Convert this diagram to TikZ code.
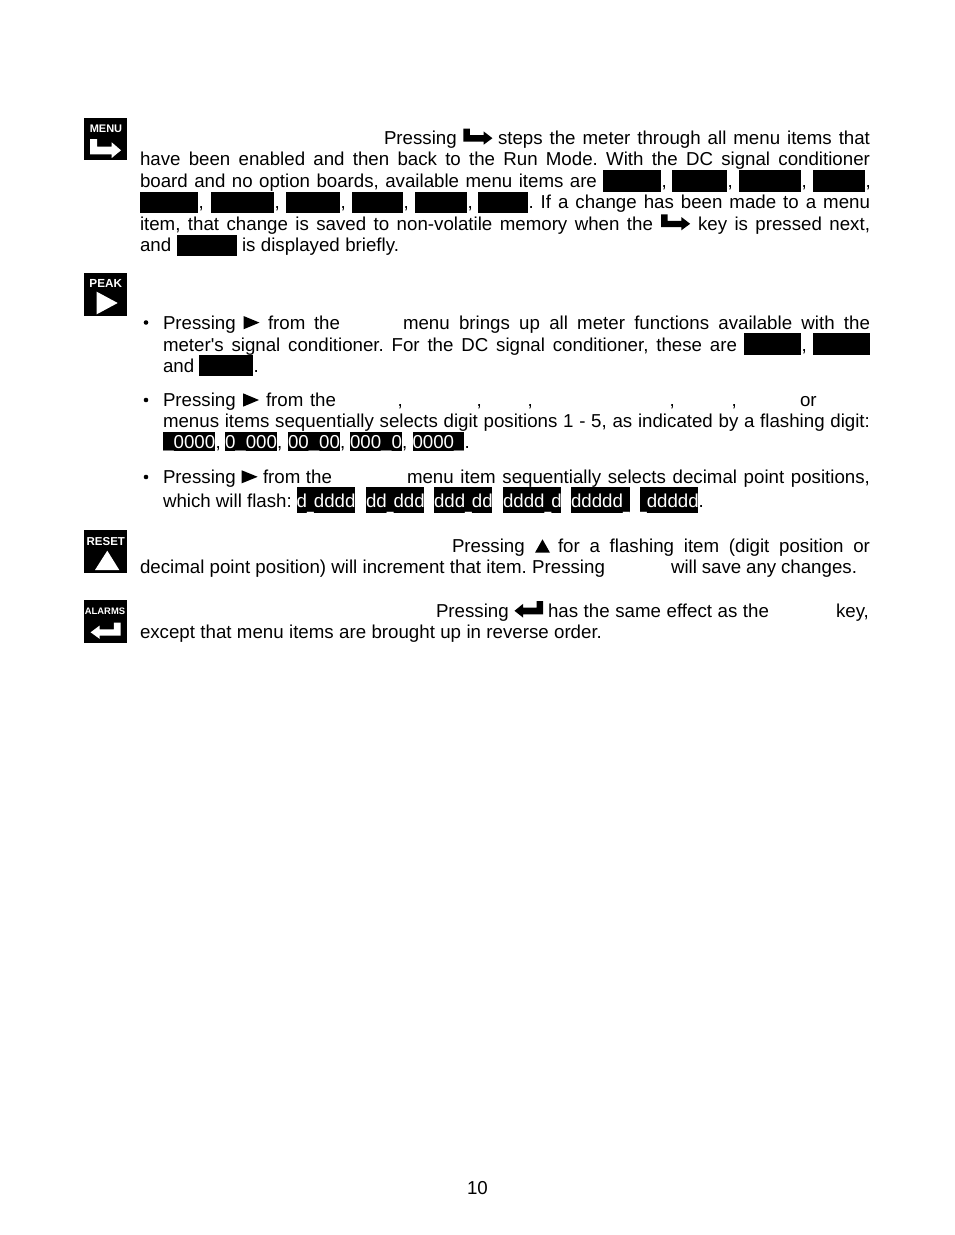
\documentclass[tikz,border=0pt]{standalone}
\usepackage{fontspec}
\setmainfont{Liberation Sans}
\newfontfamily\plainface{Liberation Sans}
\AtBeginDocument{\frenchspacing}
\newcommand\bodysize{\fontsize{18.7}{21.5}\selectfont}
\newcommand\nus{\raisebox{-1pt}{\scalebox{0.65}[1.5]{\_}}}
\tikzset{
  x=1pt,y=-1pt,
  tl/.style={anchor=base west,inner sep=0pt,outer sep=0pt,font=\bodysize,text=black},
  wl/.style={tl,text=white},
  iconlabel/.style={anchor=base,inner sep=0pt,outer sep=0pt,text=white},
  blk/.style={fill=black,draw=none},
  wht/.style={fill=white,draw=none},
}
% justified segment: x, baseline, width, text
\newcommand\seg[4]{\node[tl] at (#1,#2) {\makebox[#3pt][s]{#4}};}
% natural-width text: x, baseline, text
\newcommand\wrd[3]{\node[tl] at (#1,#2) {#3};}
% redaction block: x0,y0,x1,y1
\newcommand\blackbar[4]{\fill[blk] (#1,#2) rectangle (#3,#4);}
% block with white text inside: x0,y0,x1,y1,baseline,text
\newcommand\txtbar[6]{\fill[blk] (#1,#2) rectangle (#3,#4);\node[wl] at (#1,#5) {#6};}
% bent arrow: shift x,y ; xscale ; yscale ; style
\newcommand\bentarrow[5]{\fill[#5,shift={(#1,#2)},xscale=#3,yscale=#4]
  (0,0) -- (7,0) -- (7,7.7) -- (21.7,7.7) -- (21.7,3.3) -- (31,11.3) -- (21.7,19) -- (21.7,15.3) -- (0,15.3) -- cycle;}
\begin{document}
\begin{tikzpicture}
\useasboundingbox[fill=white] (0,0) rectangle (954,1235);
% --- icons
\fill[blk] (84,118) rectangle (127.3,160);
\node[iconlabel,font=\bfseries\fontsize{11}{11}\selectfont] (menuLabel) at (106,132.7) {MENU};
\bentarrow{90}{139}{1}{1}{wht}
\fill[blk] (84,273) rectangle (127.3,316);
\node[iconlabel,font=\bfseries\fontsize{11.7}{11.7}\selectfont] (peakLabel) at (105.7,287.7) {PEAK};
\fill[wht] (96.7,291.7) -- (117.7,303) -- (96.7,314.3) -- cycle;
\fill[blk] (84,530) rectangle (127.3,572.7);
\node[iconlabel,font=\bfseries\fontsize{11.5}{11.5}\selectfont] (resetLabel) at (105.8,545) {RESET};
\fill[wht] (107.3,550.7) -- (119.3,570) -- (95,570) -- cycle;
\fill[blk] (84,600) rectangle (127.3,642.7);
\node[iconlabel,font=\bfseries\fontsize{9.4}{9.4}\selectfont] (alarmsLabel) at (105,614) {ALARMS};
\bentarrow{120.7}{622.7}{-0.97}{0.85}{wht}
% --- MENU paragraph
\wrd{384}{144}{Pressing}
\bentarrow{463.3}{128.7}{0.94}{0.84}{blk}
\seg{498}{144}{372}{steps the meter through all menu items that}
\seg{140}{165.3}{730}{have been enabled and then back to the Run Mode. With the DC signal conditioner}
\seg{140}{187}{457}{board and no option boards, available menu items are}
\blackbar{603}{170}{661}{192}\wrd{661.5}{187}{,}
\blackbar{672}{170}{727}{192}\wrd{727.5}{187}{,}
\blackbar{739}{170}{801}{192}\wrd{801.5}{187}{,}
\blackbar{813}{170}{865}{192}\wrd{865.5}{187}{,}
\blackbar{140}{192}{198}{213}\wrd{198.5}{208.5}{,}
\blackbar{211}{192}{274}{213}\wrd{274.5}{208.5}{,}
\blackbar{286}{192}{340}{213}\wrd{340.5}{208.5}{,}
\blackbar{352}{192}{403}{213}\wrd{403.5}{208.5}{,}
\blackbar{415}{192}{467}{213}\wrd{467.5}{208.5}{,}
\blackbar{478}{192}{528}{213}
\seg{528.5}{208.5}{341.5}{. If a change has been made to a menu}
\seg{140}{230}{513}{item, that change is saved to non-volatile memory when the}
\bentarrow{661}{214.3}{0.94}{0.84}{blk}
\seg{698}{230}{172}{key is pressed next,}
\wrd{140}{251.7}{and}
\blackbar{177}{235}{237}{256}
\seg{242}{251.7}{157}{is displayed briefly.}
% --- PEAK bullet 1
\fill[blk] (146,322.5) circle (2.3);
\wrd{163}{329}{Pressing}
\fill[blk] (243.5,316) -- (259.5,322.6) -- (243.5,329.3) -- cycle;
\seg{268}{329}{72}{from the}
\seg{403}{329}{467}{menu brings up all meter functions available with the}
\seg{163}{351}{574}{meter{\plainface '}s signal conditioner. For the DC signal conditioner, these are}
\blackbar{744}{333}{801}{355}\wrd{801.5}{351}{,}
\blackbar{813}{333}{870}{355}
\wrd{163}{372.5}{and}
\blackbar{199}{355}{253}{375.7}\wrd{253.5}{372.5}{.}
% --- PEAK bullet 2
\fill[blk] (146,400) circle (2.3);
\wrd{163}{406}{Pressing}
\fill[blk] (243,393.3) -- (259,400) -- (243,406.7) -- cycle;
\seg{266}{406}{70}{from the}
\wrd{397.5}{406}{,}\wrd{476.5}{406}{,}\wrd{527.5}{406}{,}\wrd{669.5}{406}{,}\wrd{731.5}{406}{,}
\wrd{800}{406}{or}
\seg{163}{427.5}{707}{menus items sequentially selects digit positions 1 - 5, as indicated by a flashing digit:}
\txtbar{163.3}{431.7}{215}{450.8}{448.5}{\_0000}\wrd{215.5}{448.5}{,}
\txtbar{225}{431.7}{276.7}{450.8}{448.5}{0\_000}\wrd{277}{448.5}{,}
\txtbar{288}{431.7}{339.7}{450.8}{448.5}{00\_00}\wrd{340}{448.5}{,}
\txtbar{350}{431.7}{401.7}{450.8}{448.5}{000\_0}\wrd{402}{448.5}{,}
\txtbar{412.5}{431.7}{464}{450.8}{448.5}{0000\_}\wrd{464.5}{448.5}{.}
% --- PEAK bullet 3
\fill[blk] (146,477) circle (2.3);
\wrd{163}{483}{Pressing}
\fill[blk] (241.7,470.3) -- (257.7,476.8) -- (241.7,483.3) -- cycle;
\seg{263}{483}{69}{from the}
\seg{407}{483}{463}{menu item sequentially selects decimal point positions,}
\wrd{163}{507}{which will flash:}
\txtbar{296.7}{486.7}{355}{513}{507}{d\nus dddd}
\txtbar{366}{486.7}{424}{513}{507}{dd\nus ddd}
\txtbar{434}{486.7}{492}{513}{507}{ddd\nus dd}
\txtbar{503}{486.7}{561}{513}{507}{dddd\nus d}
\txtbar{571}{486.7}{630}{513}{507}{ddddd\nus}
\txtbar{640}{486.7}{698}{513}{507}{\nus ddddd}
\wrd{698.5}{507}{.}
% --- RESET paragraph
\wrd{452}{552}{Pressing}
\fill[blk] (542.5,539.3) -- (550,552.7) -- (535,552.7) -- cycle;
\seg{558}{552}{312}{for a flashing item (digit position or}
\seg{140}{573.3}{465}{decimal point position) will increment that item. Pressing}
\seg{671}{573.3}{186}{will save any changes.}
% --- ALARMS paragraph
\wrd{436}{617.3}{Pressing}
\bentarrow{543}{601}{-0.92}{0.87}{blk}
\seg{548}{617.3}{221}{has the same effect as the}
\wrd{836}{617.3}{key,}
\seg{140}{638.5}{462}{except that menu items are brought up in reverse order.}
% --- page number
\node[tl] (pageNumber) at (467,1194) {10};
\end{tikzpicture}
\end{document}
